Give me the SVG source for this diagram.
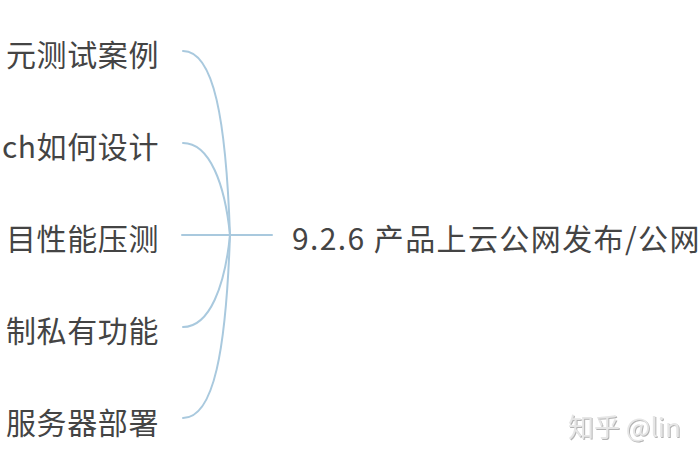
<svg xmlns="http://www.w3.org/2000/svg" width="700" height="470" viewBox="0 0 700 470">
<style>
.t{font-family:"Noto Sans CJK SC","Noto Sans",sans-serif;font-size:30px;fill:#444444;letter-spacing:0.6px}
.c{letter-spacing:1.4px}
.l{fill:none;stroke:#a9c9de;stroke-width:2;stroke-linecap:round}
.w{font-family:"Noto Sans CJK SC","Noto Sans",sans-serif;font-size:26px;fill:#e6e6e6}
</style>
<defs>
<filter id="emb" x="-5%" y="-20%" width="110%" height="140%">
<feDropShadow dx="1" dy="1" stdDeviation="0.4" flood-color="#a0a0a0" flood-opacity="0.8"/>
</filter>
</defs>
<rect width="700" height="470" fill="#ffffff"/>
<g id="connectors">
<path class="l" d="M183,51 C214,51 226,120 230,235"/>
<path class="l" d="M183,143 C210,143 225,185 230,235"/>
<path class="l" d="M182,235 L272,235"/>
<path class="l" d="M183,327 C210,327 225,285 230,235"/>
<path class="l" d="M183,418 C214,418 226,350 230,235"/>
</g>
<g id="node1"><text class="t" x="159" y="66" text-anchor="end">元测试案例</text></g>
<g id="node2"><text class="t" x="159" y="158" text-anchor="end">ch如何设计</text></g>
<g id="node3"><text class="t" x="159" y="250" text-anchor="end">目性能压测</text></g>
<g id="node4"><text class="t" x="159" y="342" text-anchor="end">制私有功能</text></g>
<g id="node5"><text class="t" x="159" y="434" text-anchor="end">服务器部署</text></g>
<g id="root"><text class="t c" x="292" y="250">9.2.6 产品上云公网发布/公网</text></g>
<g id="watermark"><text class="w" x="568" y="437" filter="url(#emb)">知乎 @lin</text></g>
</svg>
